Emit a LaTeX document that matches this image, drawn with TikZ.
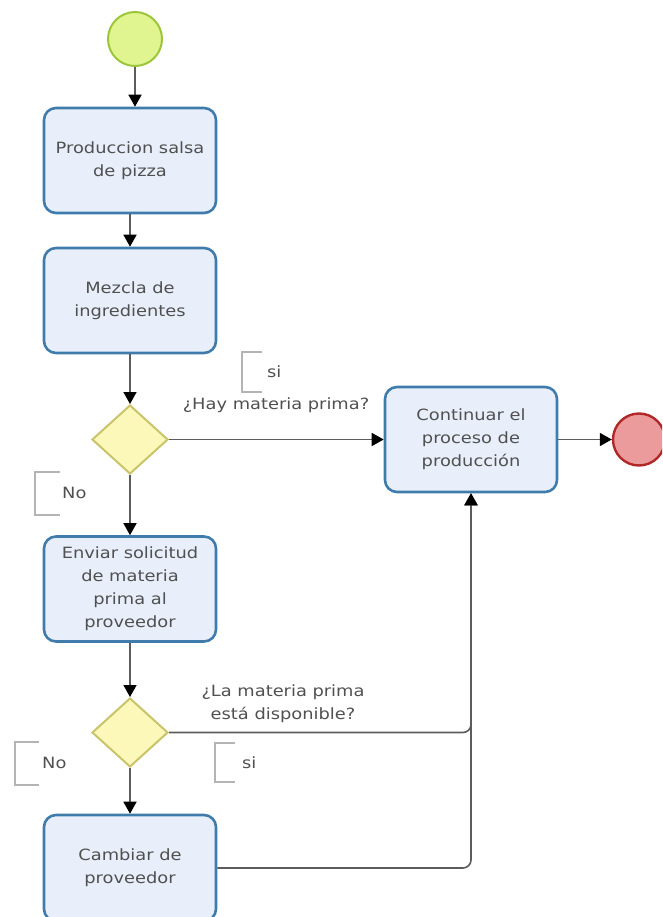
\documentclass[tikz,border=0pt]{standalone}
\usepackage{fontspec}
\setmainfont[FakeStretch=1.15]{DejaVu Sans}
\usetikzlibrary{shapes.geometric,arrows.meta}

\definecolor{taskfill}{HTML}{E8EFFA}
\definecolor{taskline}{HTML}{3F7CAC}
\definecolor{startfill}{HTML}{E0F590}
\definecolor{startline}{HTML}{9CC63A}
\definecolor{endfill}{HTML}{EB9B9B}
\definecolor{endline}{HTML}{B02828}
\definecolor{gatefill}{HTML}{FBF8BA}
\definecolor{gateline}{HTML}{C9C46A}
\definecolor{flowline}{HTML}{5C5C5C}
\definecolor{txt}{HTML}{505050}
\definecolor{annot}{HTML}{B4B4B4}

\tikzset{
  task/.style={draw=taskline, line width=2.6pt, fill=taskfill, rounded corners=12pt,
    minimum width=172pt, minimum height=105pt, align=center, text=txt,
    font=\fontsize{15.5}{23}\selectfont, inner sep=2pt},
  startev/.style={circle, draw=startline, line width=2pt, fill=startfill,
    minimum size=54pt, inner sep=0pt},
  endev/.style={circle, draw=endline, line width=2.4pt, fill=endfill,
    minimum size=52pt, inner sep=0pt},
  gate/.style={diamond, draw=gateline, line width=2pt, fill=gatefill,
    minimum width=76pt, minimum height=69pt, inner sep=0pt},
  flow/.style={draw=flowline, line width=1.6pt,
    -{Triangle[width=13pt,length=12pt,color=black]}},
  flowjoin/.style={flow, rounded corners=8pt},
  lbl/.style={text=txt, font=\fontsize{15.5}{23}\selectfont, align=center, inner sep=0pt},
  annotation/.style={draw=annot, line width=1.2pt}
}

\begin{document}
\begin{tikzpicture}[x=1pt,y=-1pt]
  \useasboundingbox (0,0) rectangle (662,917);
  \clip (0,0) rectangle (662,917);

  % events and tasks
  \node[startev] (start) at (135,39) {};
  \node[task] (t1) at (130,160.5) {Produccion salsa\\de pizza};
  \node[task] (t2) at (130,300.5) {Mezcla de\\ingredientes};
  \node[gate] (g1) at (130,439.5) {};
  \node[task] (t3) at (130,589) {Enviar solicitud\\de materia\\prima al\\proveedor};
  \node[gate] (g2) at (130,732.5) {};
  \node[task, minimum height=106pt] (t4) at (130,868) {Cambiar de\\proveedor};
  \node[task] (cont) at (471,439.5) {Continuar el\\proceso de\\producción};
  \node[endev] (end) at (639,439.5) {};

  % sequence flows
  \draw[flow] (start.south) -- (start.south |- t1.north);
  \draw[flow] (t1) -- (t2);
  \draw[flow] (t2) -- (g1);
  \draw[flow] (g1) -- (cont);
  \draw[flow] (cont) -- (end);
  \draw[flow] (g1) -- (t3);
  \draw[flow] (t3) -- (g2);
  \draw[flow] (g2) -- (t4);
  \draw[flowjoin] (g2.east) -| (cont.south);
  \draw[flowjoin] (t4.east) -| (cont.south);

  % gateway questions
  \node[lbl] (q1) at (276,405) {¿Hay materia prima?};
  \node[lbl] (q2) at (283,703.5) {¿La materia prima\\está disponible?};

  % condition annotations
  \draw[annotation] (262,352) -- (242,352) -- (242,392) -- (262,392);
  \node[lbl, anchor=west] (c1) at (267,372) {si};
  \draw[annotation] (60,472) -- (35,472) -- (35,515) -- (60,515);
  \node[lbl, anchor=west] (c2) at (62,493) {No};
  \draw[annotation] (235,743) -- (215,743) -- (215,782) -- (235,782);
  \node[lbl, anchor=west] (c3) at (242,763) {si};
  \draw[annotation] (39,742) -- (15,742) -- (15,785) -- (39,785);
  \node[lbl, anchor=west] (c4) at (42,763) {No};
\end{tikzpicture}
\end{document}
